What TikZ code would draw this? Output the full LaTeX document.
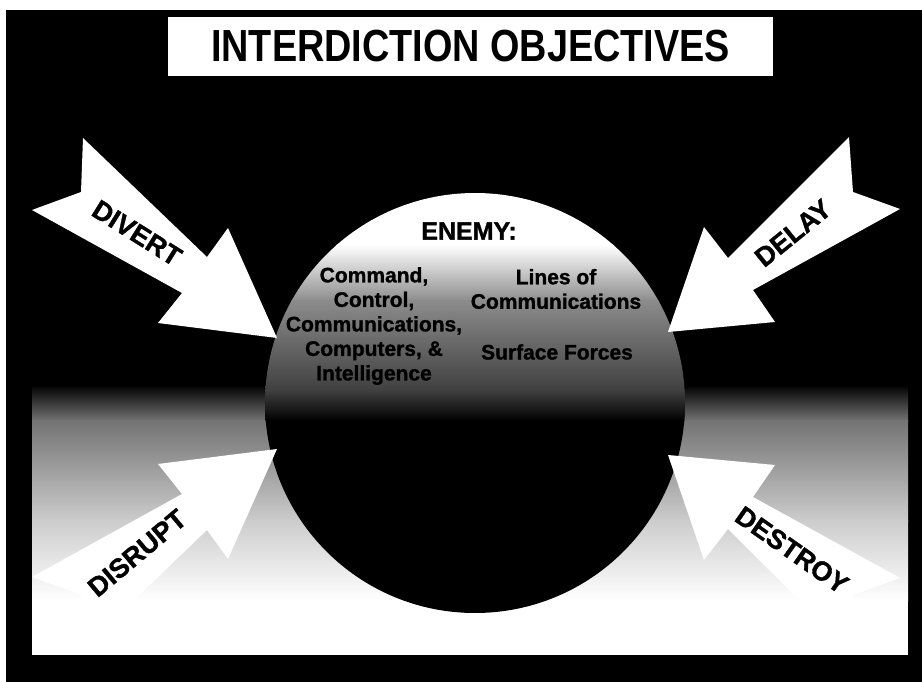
\documentclass[tikz,border=0pt]{standalone}
\usepackage{fontspec}
\setmainfont{Liberation Sans}
\newfontfamily\titlefont[FakeStretch=0.84]{Liberation Sans}
\newfontfamily\heavyfont[FakeBold=1.2]{Liberation Sans}
\usepackage{tikz}
\tikzset{>=latex}
\tikzstyle{pointer}=[fill=white]
\tikzstyle{pointertext}=[font=\heavyfont\fontsize{27}{27}\selectfont\bfseries, inner sep=0pt]
\tikzstyle{enemytext}=[font=\heavyfont\fontsize{21}{24.5}\selectfont\bfseries, align=center, inner sep=0pt]
\tikzstyle{titlebox}=[fill=white, minimum width=605, minimum height=59, inner sep=0pt,
  font=\titlefont\fontsize{45}{45}\selectfont\bfseries]

\begin{document}
\begin{tikzpicture}[x=1pt,y=-1pt]
      \useasboundingbox (0,0) rectangle (922,682);
      \fill[white] (0,0) rectangle (922,682);
      \fill[black] (6,10) rectangle (922,682);
      \shade[top color=black, bottom color=black!55] (32,385) rectangle (908,421);
      \shade[top color=black!55, bottom color=black!20] (32,420) rectangle (908,521);
      \shade[top color=black!20, bottom color=white] (32,520) rectangle (908,601);
      \fill[white] (32,600) rectangle (908,655);
      \begin{scope}
        \clip (475,403) circle[radius=210pt];
        \fill[black] (260,190) rectangle (690,620);
        \fill[white] (260,190) rectangle (690,246);
        \shade[top color=white, bottom color=black!45] (260,245) rectangle (690,301);
        \shade[top color=black!45, bottom color=black!75] (260,300) rectangle (690,391);
        \shade[top color=black!75, bottom color=black] (260,390) rectangle (690,421);
      \end{scope}
      \fill[pointer] (83,138) -- (207,257) -- (228,228) -- (277,338) -- (158,323) -- (182,293) -- (32,210) -- (81,192) -- cycle;
      \fill[pointer] (849,137) -- (728,258) -- (704,227) -- (668,332) -- (775,322) -- (753,290) -- (900,209) -- (853,192) -- cycle;
      \fill[pointer] (83,649) -- (207,530) -- (228,559) -- (277,449) -- (158,464) -- (182,494) -- (32,577) -- (81,595) -- cycle;
      \fill[pointer] (849,650) -- (728,529) -- (704,560) -- (668,455) -- (775,465) -- (753,497) -- (900,578) -- (853,595) -- cycle;
      \node[titlebox] (title) at (470.5,46.5) {INTERDICTION OBJECTIVES};
      \node[pointertext, rotate=-32] (divert) at (137,233) {DIVERT};
      \node[pointertext, rotate=39] (delay) at (793,233) {DELAY};
      \node[pointertext, rotate=40] (disrupt) at (137,553) {DISRUPT};
      \node[pointertext, rotate=-35] (destroy) at (792,550) {DESTROY};
      \node[font=\heavyfont\fontsize{25}{25}\selectfont\bfseries, inner sep=0pt] (enemy) at (469,231) {ENEMY:};
      \node[enemytext] (c4i) at (374,326) {Command,\\Control,\\Communications,\\Computers, \&\\Intelligence};
      \node[enemytext] (loc) at (556,289) {Lines of\\Communications};
      \node[enemytext] (forces) at (557,352) {Surface Forces};
    \end{tikzpicture}
\end{document}
